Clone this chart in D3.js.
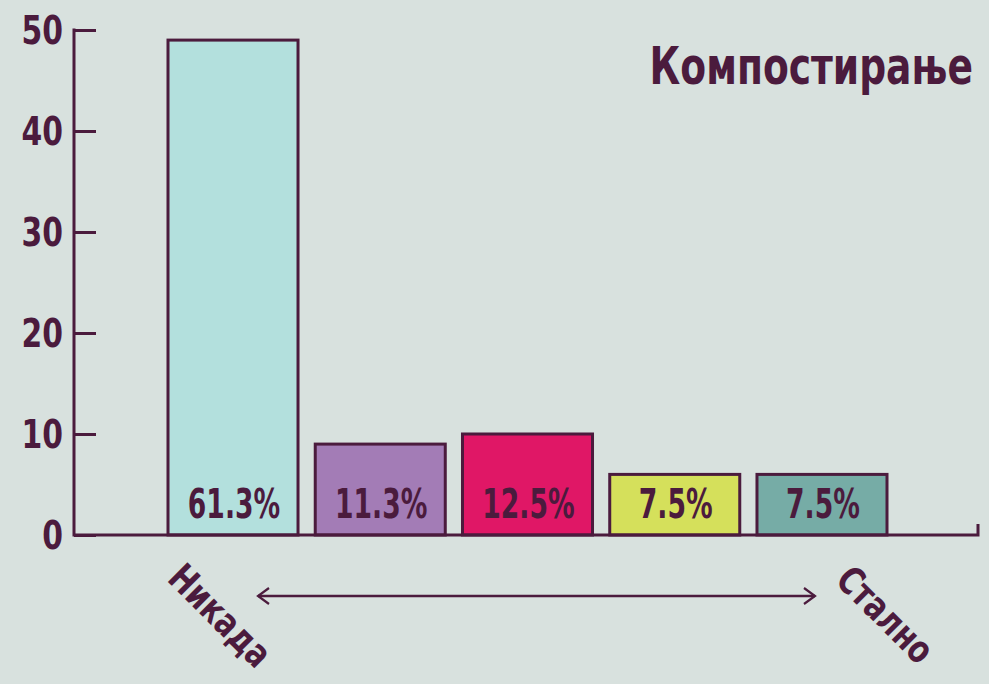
<!DOCTYPE html>
<html><head><meta charset="utf-8">
<script src="https://cdn.jsdelivr.net/npm/d3@7"></script>
<style>
html,body{margin:0;padding:0;background:#d8e1de;}
svg{display:block;}
text{font-family:"DejaVu Sans Condensed","DejaVu Sans",sans-serif;font-weight:bold;fill:#4b1b3d;}
</style></head>
<body>
<svg id="chart" width="989" height="684"></svg>
<script>
const title = "Компостирање";
const categories = ["1","2","3","4","5"];
const values = [49, 9, 10, 6, 6];
const percentLabels = ["61.3%","11.3%","12.5%","7.5%","7.5%"];
const colors = ["#b3e0dd","#a37cb6","#e01766","#d5e05b","#76aca6"];
const yTicks = [0,10,20,30,40,50];
const endLabels = ["Никада","Стално"];

const dark = "#4b1b3d";
const svg = d3.select("#chart");
svg.append("rect").attr("width",989).attr("height",684).attr("fill","#d8e1de");

const y = d3.scaleLinear().domain([0,50]).range([535,30]);
const x = d3.scaleBand().domain(categories).range([168,887]).paddingInner(0.117).paddingOuter(0);

// y axis
const yAxis = d3.axisRight(y).tickValues(yTicks).tickSize(22).tickFormat("");
const gy = svg.append("g").attr("transform","translate(74,0)").call(yAxis);
gy.select(".domain").remove();
gy.selectAll(".tick line").attr("stroke",dark).attr("stroke-width",3);
svg.append("line").attr("x1",74).attr("x2",74).attr("y1",y(50)-1.5).attr("y2",y(0)+1.5)
  .attr("stroke",dark).attr("stroke-width",3);
svg.selectAll(".ylab").data(yTicks).enter().append("text")
  .attr("class","ylab")
  .attr("transform",d=>`translate(63,${y(d)+14}) scale(0.85,1)`)
  .attr("text-anchor","end")
  .attr("font-size",39)
  .text(d=>d);

// bars
svg.selectAll(".bar").data(values).enter().append("rect")
  .attr("x",(d,i)=>x(categories[i]))
  .attr("y",d=>y(d))
  .attr("width",x.bandwidth())
  .attr("height",d=>y(0)-y(d))
  .attr("fill",(d,i)=>colors[i])
  .attr("stroke",dark).attr("stroke-width",3);

// x axis baseline
svg.append("path")
  .attr("d",`M74,${y(0)}H978V${y(0)-11}`)
  .attr("fill","none").attr("stroke",dark).attr("stroke-width",3);

// percent labels
svg.selectAll(".plab").data(percentLabels).enter().append("text")
  .attr("transform",(d,i)=>`translate(${x(categories[i])+x.bandwidth()/2+1},${y(0)-17}) scale(0.74,1)`)
  .attr("text-anchor","middle")
  .attr("font-size",40)
  .text(d=>d);

// title
svg.append("text").attr("transform","translate(973,84) scale(0.82,1)").attr("text-anchor","end")
  .attr("font-size",51).text(title);

// end labels rotated
svg.append("text").attr("transform","translate(166,580) rotate(45) scale(0.85,1)")
  .attr("font-size",38).text(endLabels[0]);
svg.append("text").attr("transform","translate(834,582) rotate(45) scale(0.85,1)")
  .attr("font-size",38).text(endLabels[1]);

// arrow
svg.append("line").attr("x1",258).attr("x2",815).attr("y1",596).attr("y2",596)
  .attr("stroke",dark).attr("stroke-width",2.5);
svg.append("path").attr("d","M269,588L258,596L269,604").attr("fill","none").attr("stroke",dark).attr("stroke-width",2.2);
svg.append("path").attr("d","M804,588L815,596L804,604").attr("fill","none").attr("stroke",dark).attr("stroke-width",2.2);
</script>
</body></html>
